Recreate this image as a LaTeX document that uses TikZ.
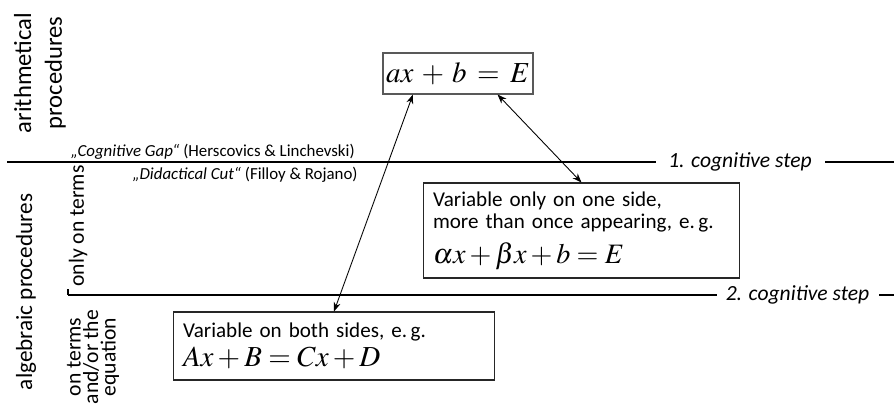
\documentclass[tikz,border=0pt]{standalone}
\usepackage{mathptmx}
\usepackage{fontspec}
\setmainfont{Carlito}
\usetikzlibrary{positioning,arrows.meta}
\newcommand\tightskip{\lineskiplimit=-20pt\relax}
\newcommand\widemath{\medmuskip=5mu\thickmuskip=6.5mu\relax}

\begin{document}
\begin{tikzpicture}[
    x=0.02cm, y=-0.02cm,
    stage/.style={rotate=90, align=center, inner sep=0pt, font=\fontsize{14}{17.5}\selectfont},
    subst/.style={rotate=90, align=center, inner sep=0pt, font={\fontsize{12.3}{10}\selectfont\tightskip}},
    sepline/.style={line width=1.6pt},
    steplabel/.style={inner sep=0pt, font=\fontsize{12.3}{14}\selectfont\itshape},
    cite/.style={inner sep=0pt, font=\fontsize{9.6}{12}\selectfont},
    casebox/.style={draw=black!85, line width=0.6pt, align=left, inner xsep=0.2cm, font=\fontsize{12}{12.5}\selectfont},
    link/.style={Stealth-Stealth, line width=0.5pt},
  ]
  \useasboundingbox (0,0) rectangle (894,403);

  \node[stage] (arith) at (40,73) {arithmetical\\procedures};
  \node[stage, font=\fontsize{13.2}{16}\selectfont] (alg) at (26,292) {algebraic procedures};
  \node[subst] (terms) at (78,226) {only on terms};
  \node[subst] (eqn) at (93,357) {on terms\\and/or the\\equation};

  \node[steplabel] (step1) at (740,162) {1. cognitive step};
  \node[steplabel] (step2) at (797.5,295) {2. cognitive step};
  \coordinate (l1w) at (7,162);
  \coordinate (l1e) at (894,162);
  \coordinate (l2w) at (68,295);
  \coordinate (l2e) at (894,295);
  \coordinate (tick) at (68,289);
  \draw[sepline] (l1w) -- ([xshift=-6.5pt]step1.west);
  \draw[sepline] ([xshift=7.5pt]step1.east) -- (l1e);
  \draw[sepline] (l2w) -- ([xshift=-5pt]step2.west);
  \draw[sepline] ([xshift=5.5pt]step2.east) -- (l2e);
  \draw[line width=0.6pt] (tick) -- (l2w);

  \node[cite, anchor=base east] (gap) at (355,156) {\textit{„Cognitive Gap“} (Herscovics \& Linchevski)};
  \node[cite, anchor=base east] (cut) at (358,179) {\textit{„Didactical Cut“} (Filloy \& Rojano)};

  \node[draw=black!65, line width=0.6pt, minimum width=3cm, minimum height=0.82cm, inner sep=0pt, font=\fontsize{16.5}{16.5}\selectfont] (eqbox) at (458,73.5) {$\widemath ax+b=E$};
  \node[casebox, text width=5.94cm, minimum height=1.9cm] (oneside) at (581.5,230.5)
    {Variable only on one side,\\more than once appearing, e.\,g.\\[5pt]{\fontsize{16}{16}\selectfont$\alpha x+\beta x+b=E$}};
  \node[casebox, text width=6.04cm, minimum height=1.36cm] (bothside) at (334,346)
    {Variable on both sides, e.\,g.\\[2pt]{\fontsize{16.5}{16.5}\selectfont$Ax+B=Cx+D$}};

  \draw[link] (eqbox.205.5) -- (bothside.north);
  \draw[link] (eqbox.-28) -- (oneside.north);
\end{tikzpicture}
\end{document}
